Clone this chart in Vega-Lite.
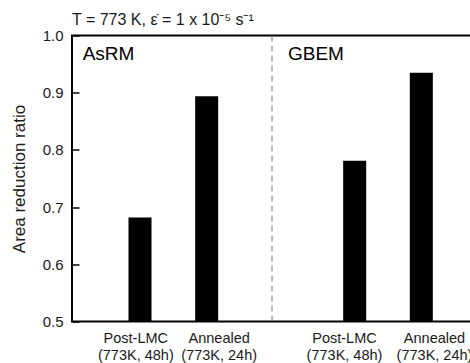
{
  "$schema": "https://vega.github.io/schema/vega-lite/v6.json",
  "autosize": {"type": "none"},
  "width": 400,
  "height": 286,
  "padding": {"left": 72, "top": 35.5, "right": 0, "bottom": 42},
  "background": "white",
  "config": {
    "font": "Liberation Sans",
    "view": {"stroke": "black", "strokeWidth": 2},
    "axis": {"labelFont": "Liberation Sans", "titleFont": "Liberation Sans", "labelColor": "#1a1a1a", "titleColor": "#1a1a1a", "grid": false, "domain": false}
  },
  "title": {
    "text": "T = 773 K, ε̇ = 1 x 10⁻⁵ s⁻¹",
    "anchor": "start",
    "frame": "group",
    "fontSize": 16,
    "fontWeight": "normal",
    "font": "Liberation Sans",
    "color": "#1a1a1a",
    "offset": 1
  },
  "datasets": {
    "bars": [
      {"material": "AsRM", "condition": "Post-LMC", "x": 1.02, "ratio": 0.682},
      {"material": "AsRM", "condition": "Annealed", "x": 2.02, "ratio": 0.894},
      {"material": "GBEM", "condition": "Post-LMC", "x": 4.24, "ratio": 0.781},
      {"material": "GBEM", "condition": "Annealed", "x": 5.24, "ratio": 0.935}
    ],
    "groups": [
      {"material": "AsRM", "x": 0.16, "y": 0.968},
      {"material": "GBEM", "x": 3.24, "y": 0.968}
    ],
    "divider": [{"x": 3}]
  },
  "layer": [
    {
      "data": {"name": "bars"},
      "mark": {"type": "bar", "width": 23, "color": "black"},
      "encoding": {
        "x": {
          "field": "x", "type": "quantitative",
          "scale": {"domain": [0, 6], "padding": 0, "nice": false, "zero": false},
          "axis": {
            "title": null,
            "values": [0.95, 2.2, 4.08, 5.43],
            "ticks": false,
            "labelFontSize": 14.5,
            "labelPadding": 10,
            "labelLineHeight": 16.7,
            "labelOverlap": false,
            "labelFlush": false,
            "labelBound": false,
            "labelExpr": "(datum.value < 1.5 || (datum.value > 3.5 && datum.value < 4.5)) ? ['Post-LMC', '(773K, 48h)'] : ['Annealed', '(773K, 24h)']"
          }
        },
        "y": {
          "field": "ratio", "type": "quantitative",
          "scale": {"domain": [0.5, 1.0], "zero": false, "nice": false},
          "axis": {
            "title": "Area reduction ratio",
            "titleFontSize": 17,
            "titleFontWeight": "normal",
            "titlePadding": 14,
            "values": [0.5, 0.6, 0.7, 0.8, 0.9, 1.0],
            "format": ".1f",
            "labelFontSize": 15,
            "tickSize": -7,
            "tickColor": "black",
            "tickWidth": 1.5,
            "labelPadding": 16
          }
        },
        "y2": {"datum": 0.5}
      }
    },
    {
      "data": {"name": "divider"},
      "mark": {"type": "rule", "color": "#777777", "strokeWidth": 1, "strokeDash": [6, 4]},
      "encoding": {"x": {"field": "x", "type": "quantitative"}}
    },
    {
      "data": {"name": "groups"},
      "mark": {"type": "text", "align": "left", "baseline": "middle", "fontSize": 19, "color": "black", "font": "Liberation Sans"},
      "encoding": {
        "x": {"field": "x", "type": "quantitative"},
        "y": {"field": "y", "type": "quantitative"},
        "text": {"field": "material"}
      }
    }
  ]
}
